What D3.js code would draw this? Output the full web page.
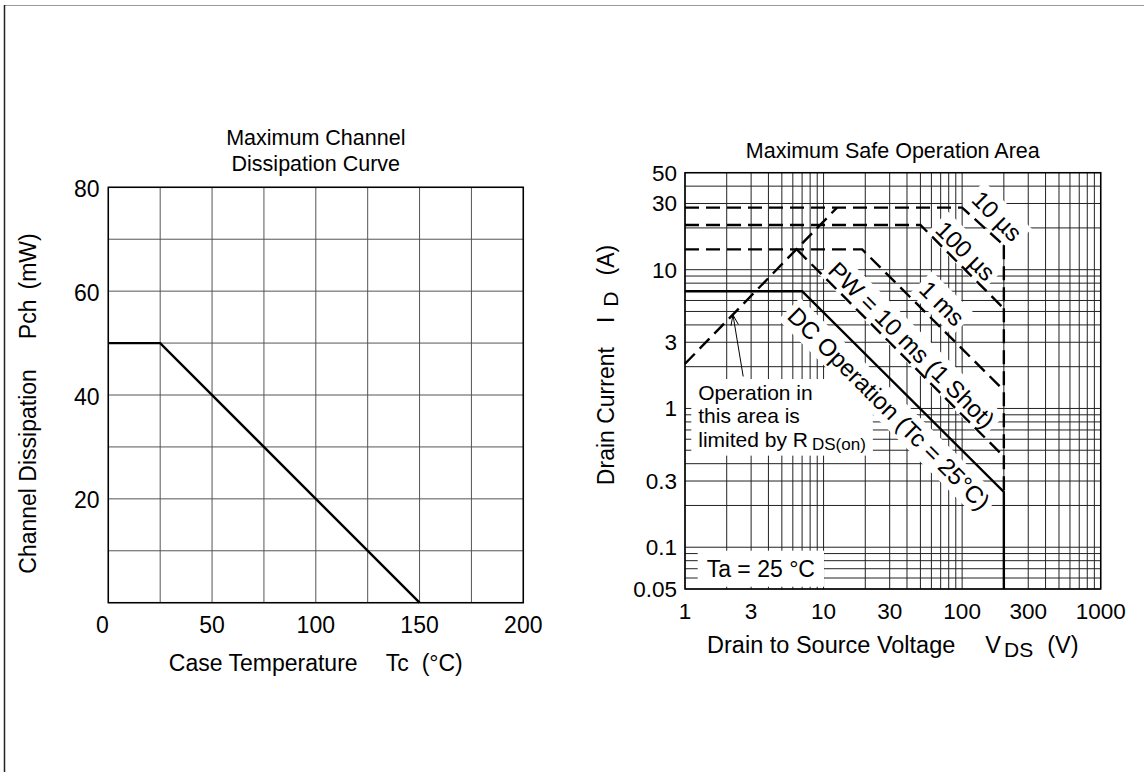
<!DOCTYPE html>
<html>
<head>
<meta charset="utf-8">
<script src="https://cdn.jsdelivr.net/npm/d3@7"></script>
<style>
body { margin: 0; background: #fff; }
svg { display: block; font-family: "Liberation Sans", Arial, Helvetica, sans-serif; }
text { fill: #000; }
</style>
</head>
<body>
<svg width="1144" height="772"></svg>
<script>
// ---- left chart: Maximum Channel Dissipation Curve
const pchTicksX = [0, 50, 100, 150, 200]
const pchTicksY = [20, 40, 60, 80]
const pchGridX = [0, 25, 50, 75, 100, 125, 150, 175, 200]
const pchGridY = [0, 10, 20, 30, 40, 50, 60, 70, 80]
const pchCurve = [[0, 50], [25, 50], [150, 0]]

// ---- right chart: Maximum Safe Operation Area (V, A)
const soaTicksX = [1, 3, 10, 30, 100, 300, 1000]
const soaTicksY = [0.05, 0.1, 0.3, 1, 3, 10, 30, 50]
const dcLine = [[1, 7], [7, 7], [200, 0.25], [200, 0.05]]
const pw10us = [[1, 28], [100, 28], [200, 15]]
const pw100us = [[1, 21], [50, 21], [200, 5.25]]
const pw1ms = [[1, 14], [19, 14], [200, 1.35]]
const pw10ms = [[6.4, 14], [200, 0.45]]
const rdsLimit = [[1, 2.1], [12.5, 28]]
const vdsLimit = [[200, 15], [200, 0.25]]
const arrowLine = [[2.63, 1.7], [2.22, 4.72]]
const curveLabels = [
  { text: '10 µs', v: 179, i: 24.4 },
  { text: '100 µs', v: 106, i: 13.7 },
  { text: '1 ms', v: 71.9, i: 5.73 },
  { text: 'PW = 10 ms (1 Shot)', v: 43.3, i: 2.87 },
  { text: 'DC Operation (Tc = 25°C)', v: 29.7, i: 1.0 }
]
const noteLines = ['Operation in', 'this area is', 'limited by R']
const notePos = { v: 1.247, i: 1.15 }
const ambientPos = { v: 1.434, i: 0.0613 }

const svg = d3.select('svg')
const W = 1144, H = 772

// page frame (only top and left edges show)
svg.append('line').attr('x1', 4).attr('x2', W).attr('y1', 5.5).attr('y2', 5.5)
  .attr('stroke', '#999').attr('stroke-width', 1.2)
svg.append('line').attr('x1', 4.5).attr('x2', 4.5).attr('y1', 5).attr('y2', H)
  .attr('stroke', '#222').attr('stroke-width', 1.5)

// ================= left chart
const px = d3.scaleLinear().domain([0, 200]).range([108.3, 523.3])
const py = d3.scaleLinear().domain([0, 80]).range([602.7, 187.3])
const left = svg.append('g')

left.selectAll('line.vg').data(pchGridX).enter().append('line')
  .attr('x1', d => px(d)).attr('x2', d => px(d))
  .attr('y1', py(0)).attr('y2', py(80))
  .attr('stroke', '#555').attr('stroke-width', 1)

left.selectAll('line.hg').data(pchGridY).enter().append('line')
  .attr('x1', px(0)).attr('x2', px(200))
  .attr('y1', d => py(d)).attr('y2', d => py(d))
  .attr('stroke', '#555').attr('stroke-width', 1)

left.append('rect')
  .attr('x', px(0)).attr('y', py(80))
  .attr('width', px(200) - px(0)).attr('height', py(0) - py(80))
  .attr('fill', 'none').attr('stroke', '#000').attr('stroke-width', 1.5)

left.append('path')
  .attr('d', d3.line().x(d => px(d[0])).y(d => py(d[1]))(pchCurve))
  .attr('fill', 'none').attr('stroke', '#000').attr('stroke-width', 2.4)

left.selectAll('text.xt').data(pchTicksX).enter().append('text')
  .attr('x', d => px(d) - (d === 0 ? 6 : 0)).attr('y', 633)
  .attr('text-anchor', 'middle').attr('font-size', 23)
  .text(d => d)

left.selectAll('text.yt').data(pchTicksY).enter().append('text')
  .attr('x', 99.5).attr('y', d => py(d) + 9.5)
  .attr('text-anchor', 'end').attr('font-size', 23)
  .text(d => d)

const lt = left.append('text').attr('text-anchor', 'middle').attr('font-size', 21.5)
lt.append('tspan').attr('x', 315.8).attr('y', 145).text('Maximum Channel')
lt.append('tspan').attr('x', 315.8).attr('y', 171).text('Dissipation Curve')

const lx = left.append('text').attr('x', 315.8).attr('y', 671)
  .attr('text-anchor', 'middle').attr('font-size', 23)
lx.append('tspan').text('Case Temperature')
lx.append('tspan').attr('dx', 28).text('Tc')
lx.append('tspan').attr('dx', 13).text('(°C)')

const ly = left.append('text').attr('transform', 'translate(36,403.5) rotate(-90)')
  .attr('text-anchor', 'middle').attr('font-size', 23)
ly.append('tspan').text('Channel Dissipation')
ly.append('tspan').attr('dx', 30).text('Pch')
ly.append('tspan').attr('dx', 10).text('(mW)')

// ================= right chart
const sx = d3.scaleLog().domain([1, 1000]).range([685, 1100.7])
const sy = d3.scaleLog().domain([0.05, 50]).range([589, 172.7])
const right = svg.append('g')

right.selectAll('line.vg').data(sx.ticks()).enter().append('line')
  .attr('x1', d => sx(d)).attr('x2', d => sx(d))
  .attr('y1', sy(0.05)).attr('y2', sy(50))
  .attr('stroke', '#222').attr('stroke-width', 1)

right.selectAll('line.hg').data(sy.ticks()).enter().append('line')
  .attr('x1', sx(1)).attr('x2', sx(1000))
  .attr('y1', d => sy(d)).attr('y2', d => sy(d))
  .attr('stroke', '#222').attr('stroke-width', 1)

right.append('rect')
  .attr('x', sx(1)).attr('y', sy(50))
  .attr('width', sx(1000) - sx(1)).attr('height', sy(0.05) - sy(50))
  .attr('fill', 'none').attr('stroke', '#000').attr('stroke-width', 1.5)

const bgLayer = right.append('g')
const lineLayer = right.append('g')
const textLayer = right.append('g')

const soaLine = d3.line().x(d => sx(d[0])).y(d => sy(d[1]))

var drawLine = (data, dashed) => {
  lineLayer.append('path')
    .attr('d', soaLine(data))
    .attr('fill', 'none').attr('stroke', '#000')
    .attr('stroke-width', 2.4)
    .attr('stroke-dasharray', dashed ? '14,7' : null)
}

drawLine(pw10us, true)
drawLine(pw100us, true)
drawLine(pw1ms, true)
drawLine(pw10ms, true)
drawLine(rdsLimit, true)
drawLine(vdsLimit, true)
drawLine(dcLine, false)

// arrow pointing at the RDS(on) limit
const a0 = [sx(arrowLine[0][0]), sy(arrowLine[0][1])]
const a1 = [sx(arrowLine[1][0]), sy(arrowLine[1][1])]
const ang = Math.atan2(a1[1] - a0[1], a1[0] - a0[0])
lineLayer.append('path')
  .attr('d', soaLine(arrowLine))
  .attr('fill', 'none').attr('stroke', '#000').attr('stroke-width', 1)
lineLayer.append('path')
  .attr('d', d3.line()([
    [a1[0] - 11 * Math.cos(ang - 0.35), a1[1] - 11 * Math.sin(ang - 0.35)],
    a1,
    [a1[0] - 11 * Math.cos(ang + 0.35), a1[1] - 11 * Math.sin(ang + 0.35)]
  ]))
  .attr('fill', 'none').attr('stroke', '#000').attr('stroke-width', 1)

// white box behind a text element, same transform
var backdrop = (node, transform, padX, padY) => {
  const b = node.getBBox()
  bgLayer.append('rect')
    .attr('transform', transform)
    .attr('x', b.x - padX).attr('y', b.y - padY)
    .attr('width', b.width + 2 * padX).attr('height', b.height + 2 * padY)
    .attr('fill', '#fff')
}

curveLabels.forEach(l => {
  const tr = `translate(${sx(l.v)},${sy(l.i)}) rotate(45)`
  const t = textLayer.append('text')
    .attr('transform', tr)
    .attr('text-anchor', 'middle').attr('dy', '0.36em')
    .attr('font-size', 24)
    .text(l.text)
  backdrop(t.node(), tr, 4, 2)
})

// "Operation in this area is limited by R DS(on)"
const nx = sx(notePos.v), ny = sy(notePos.i)
const note = textLayer.append('text').attr('font-size', 21)
noteLines.forEach((s, k) => {
  note.append('tspan').attr('x', nx).attr('y', ny + k * 23.3).text(s)
})
note.append('tspan').attr('dx', 4).attr('dy', 3).attr('font-size', 17).text('DS(on)')
backdrop(note.node(), null, 7, 2)

// Ta = 25 °C
const amb = textLayer.append('text')
  .attr('x', sx(ambientPos.v)).attr('y', sy(ambientPos.i))
  .attr('font-size', 23)
  .text('Ta = 25 °C')
backdrop(amb.node(), null, 9, 5)

right.selectAll('text.xt').data(soaTicksX).enter().append('text')
  .attr('x', d => sx(d)).attr('y', 619)
  .attr('text-anchor', 'middle').attr('font-size', 22.5)
  .text(d => d)

right.selectAll('text.yt').data(soaTicksY).enter().append('text')
  .attr('x', 677).attr('y', d => sy(d) + 8)
  .attr('text-anchor', 'end').attr('font-size', 22.5)
  .text(d => d)

right.append('text')
  .attr('x', 892.8).attr('y', 158.3)
  .attr('text-anchor', 'middle').attr('font-size', 21.5)
  .text('Maximum Safe Operation Area')

const rx = right.append('text').attr('x', 892.8).attr('y', 653)
  .attr('text-anchor', 'middle').attr('font-size', 23.5)
rx.append('tspan').text('Drain to Source Voltage')
rx.append('tspan').attr('dx', 30).text('V')
rx.append('tspan').attr('dx', 3).attr('dy', 4).attr('font-size', 21).text('DS')
rx.append('tspan').attr('dx', 14).attr('dy', -4).text('(V)')

const ry = right.append('text').attr('transform', 'translate(613.5,365) rotate(-90)')
  .attr('text-anchor', 'middle').attr('font-size', 23)
ry.append('tspan').text('Drain Current')
ry.append('tspan').attr('dx', 24).text('I')
ry.append('tspan').attr('dx', 10).attr('dy', 4).attr('font-size', 21).text('D')
ry.append('tspan').attr('dx', 16).attr('dy', -4).text('(A)')
</script>
</body>
</html>
